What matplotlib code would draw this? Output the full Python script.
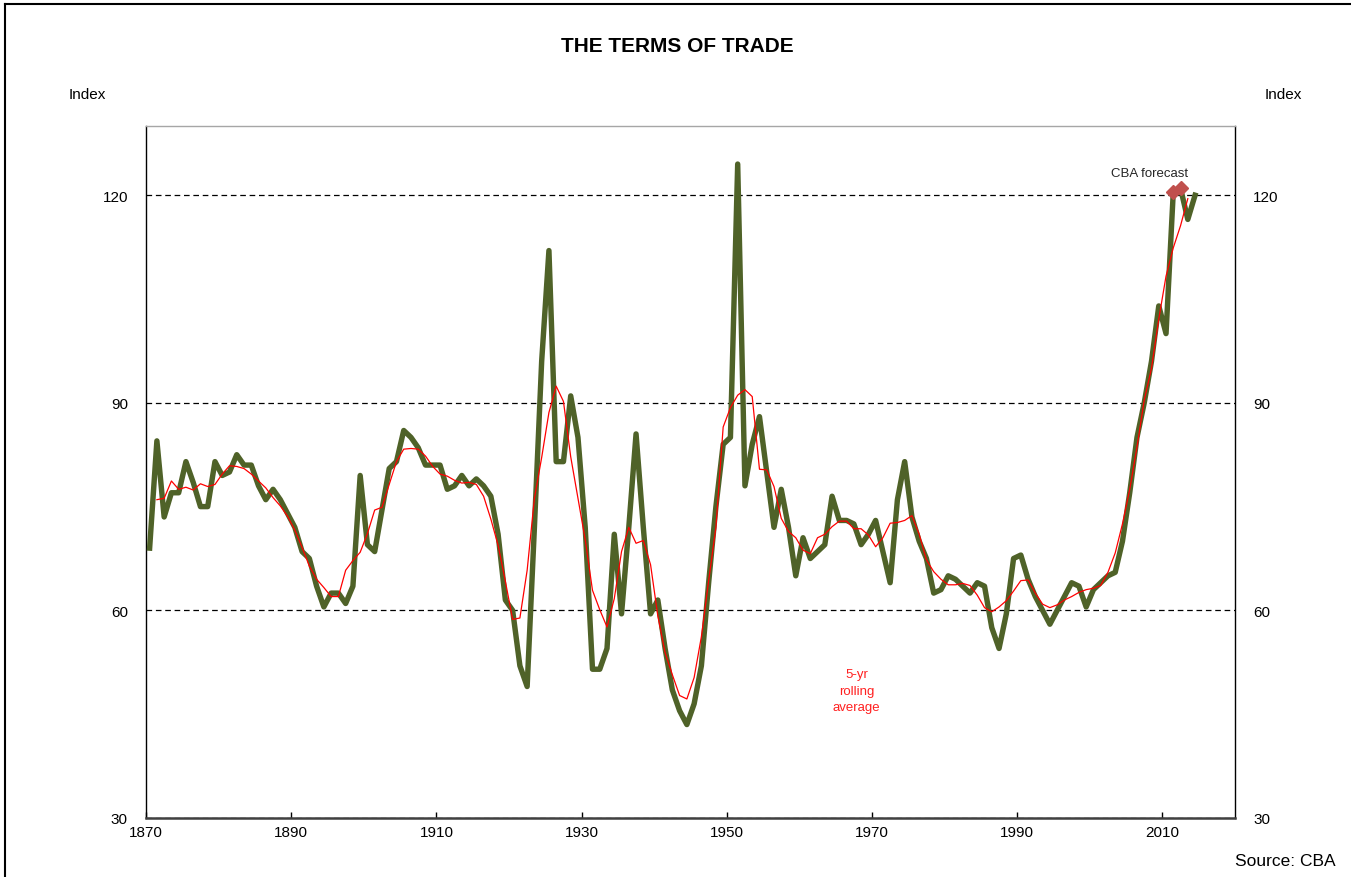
import matplotlib
matplotlib.use("Agg")
import matplotlib.pyplot as plt
import numpy as np
import pandas as pd
from matplotlib.lines import Line2D

plt.rcParams['font.family'] = ['Liberation Sans', 'DejaVu Sans']

# Terms of trade index, annual, 1870-2014
start_year = 1870
terms_of_trade = [
    69.0, 84.5, 73.5, 77.0, 77.0, 81.5, 78.5, 75.0, 75.0, 81.5,   # 1870s
    79.5, 80.0, 82.5, 81.0, 81.0, 78.0, 76.0, 77.5, 76.0, 74.0,   # 1880s
    72.0, 68.5, 67.5, 63.5, 60.5, 62.5, 62.5, 61.0, 63.5, 79.5,   # 1890s
    69.5, 68.5, 74.5, 80.5, 81.5, 86.0, 85.0, 83.5, 81.0, 81.0,   # 1900s
    81.0, 77.5, 78.0, 79.5, 78.0, 79.0, 78.0, 76.5, 71.0, 61.5,   # 1910s
    60.0, 52.0, 49.0, 72.0, 96.0, 112.0, 81.5, 81.5, 91.0, 85.0,  # 1920s
    72.0, 51.5, 51.5, 54.5, 71.0, 59.5, 72.0, 85.5, 72.0, 59.5,   # 1930s
    61.5, 54.5, 48.5, 45.5, 43.5, 46.5, 52.0, 64.0, 75.0, 84.0,   # 1940s
    85.0, 124.5, 78.0, 84.0, 88.0, 80.0, 72.0, 77.5, 72.0, 65.0,  # 1950s
    70.5, 67.5, 68.5, 69.5, 76.5, 73.0, 73.0, 72.5, 69.5, 71.0,   # 1960s
    73.0, 68.5, 64.0, 76.0, 81.5, 73.5, 70.0, 67.5, 62.5, 63.0,   # 1970s
    65.0, 64.5, 63.5, 62.5, 64.0, 63.5, 57.5, 54.5, 59.5, 67.5,   # 1980s
    68.0, 64.5, 62.0, 60.0, 58.0, 60.0, 62.0, 64.0, 63.5, 60.5,   # 1990s
    63.0, 64.0, 65.0, 65.5, 70.0, 77.0, 85.0, 90.0, 96.0, 104.0,  # 2000s
    100.0, 120.5, 121.0, 116.5, 120.0,                            # 2010s
]
forecast_years = [2011, 2012]

x_ticks = [1870, 1890, 1910, 1930, 1950, 1970, 1990, 2010]
y_ticks = [30, 60, 90, 120]

series = pd.Series(terms_of_trade,
                   index=np.arange(start_year, start_year + len(terms_of_trade)))
rolling = series.rolling(5, center=True, min_periods=4).mean()

W, H = 1351, 878
fig = plt.figure(figsize=(W / 100, H / 100), dpi=100)
ax = fig.add_axes([146 / W, 1 - 819 / H, (1235 - 146) / W, (819 - 127) / H])

# annual observations sit in the middle of each year's slot
ax.plot(series.index + 0.5, series.values, color='#4f6228', lw=3.9,
        solid_joinstyle='round', zorder=3)
ax.plot(rolling.index + 0.5, rolling.values, color='#ff0000', lw=0.9, zorder=4)
fc = series.loc[forecast_years]
ax.plot(fc.index + 0.5, fc.values, linestyle='none', marker='D', ms=7,
        color='#c0504d', zorder=5)

ax.set_xlim(1870, 2020)
ax.set_ylim(30, 130)
ax.set_xticks(x_ticks)
ax.set_yticks(y_ticks)
ax.tick_params(axis='x', direction='in', length=4, width=1, pad=5,
               labelsize=11, colors='black')
ax.tick_params(axis='y', direction='in', length=0, pad=13, labelsize=11,
               right=True, labelright=True)

ax.yaxis.grid(True, color='black', lw=0.9, linestyle=(0, (4.5, 3)))
ax.set_axisbelow(True)

for side in ('left', 'right'):
    ax.spines[side].set_color('black')
    ax.spines[side].set_linewidth(1.0)
ax.spines['bottom'].set_color('#404040')
ax.spines['bottom'].set_linewidth(1.8)
ax.spines['top'].set_color('#a6a6a6')
ax.spines['top'].set_linewidth(1.0)

ax.text(2008.3, 123.2, 'CBA forecast', ha='center', va='center',
        fontsize=9.5, color='#262626')
ax.text(1967.9, 48.4, '5-yr\nrolling\naverage', ha='center', va='center',
        fontsize=9.5, color='#ff2020', linespacing=1.5)

fig.text(677 / W, 1 - 47 / H, 'THE TERMS OF TRADE', ha='center', va='center',
         fontsize=15, fontweight='bold')
fig.text(87 / W, 1 - 95 / H, 'Index', ha='center', va='center', fontsize=11)
fig.text(1283 / W, 1 - 95 / H, 'Index', ha='center', va='center', fontsize=11)
fig.text(1336 / W, 1 - 862 / H, 'Source: CBA', ha='right', va='center',
         fontsize=12.5)

# outer frame of the chart
fig.add_artist(Line2D([5 / W, 5 / W], [0, 1 - 5 / H], transform=fig.transFigure,
                      color='black', lw=1.5))
fig.add_artist(Line2D([5 / W, 1], [1 - 5 / H, 1 - 5 / H], transform=fig.transFigure,
                      color='black', lw=1.5))

fig.savefig('out.png', dpi=100, facecolor='white')
